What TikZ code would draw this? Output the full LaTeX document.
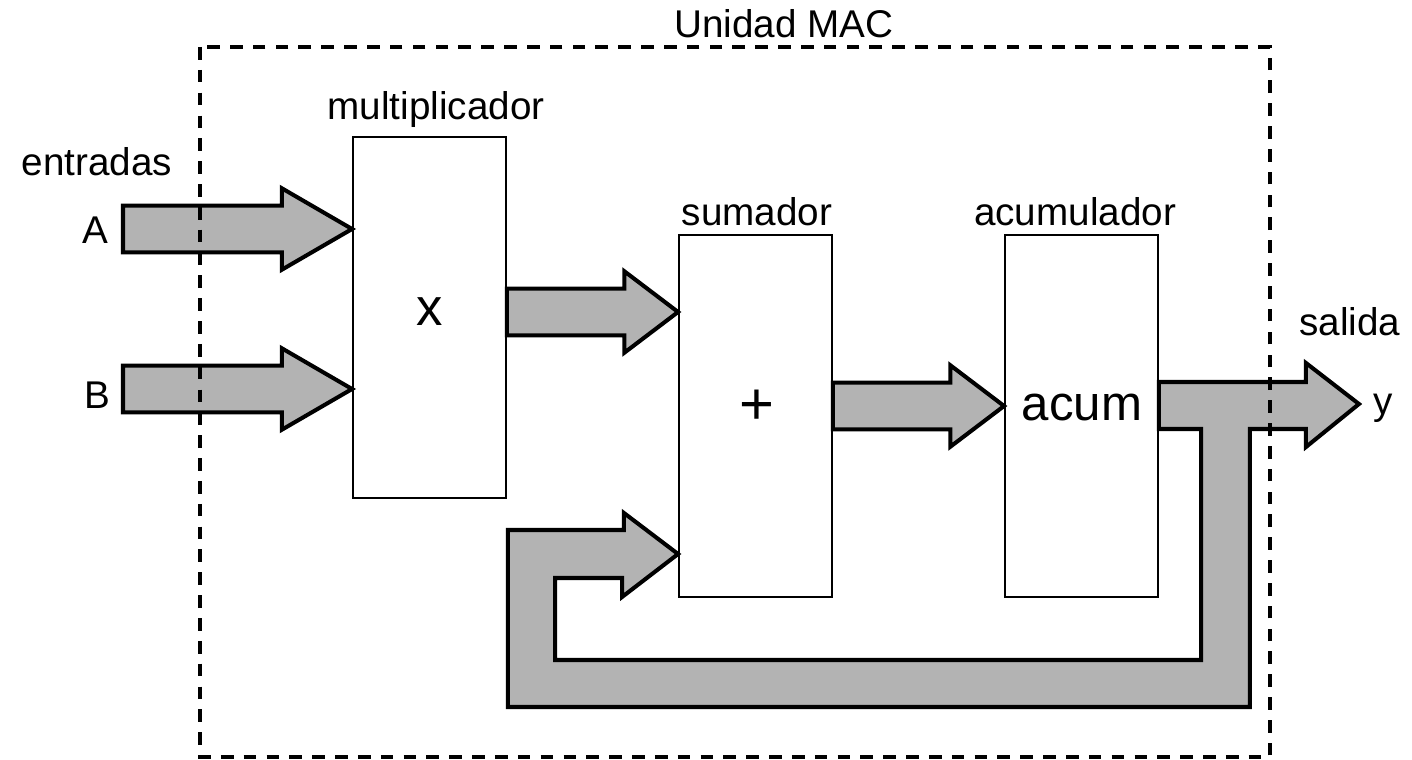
\documentclass[tikz,border=0pt]{standalone}
\usepackage{fontspec}
\setmainfont{Liberation Sans}
\usetikzlibrary{calc}
\definecolor{arrowgray}{RGB}{179,179,179}
\tikzset{
  block/.style={draw=black,line width=1.1pt,fill=white,minimum width=3.06cm,minimum height=7.23cm,inner sep=0pt},
  fatarrow/.style={draw=black,line width=2.3pt,fill=arrowgray,line join=miter},
  caption/.style={font=\fontsize{22}{26}\selectfont,inner sep=0pt},
  symbol/.style={font=\fontsize{28}{32}\selectfont,inner sep=0pt},
  unitbox/.style={draw=black,line width=1.8pt,dash pattern=on 7.2pt off 5.8pt}
}
% wide arrow from the x of #2 to the tip #3, head length #1
\newcommand{\blockarrow}[3][30.6pt]{%
  \draw[fatarrow] let \p1=(#2), \p2=(#3) in
    (\x1,\y2+13.3pt) -- (\x2-#1,\y2+13.3pt) -- (\x2-#1,\y2+23.2pt) -- (\x2,\y2)
    -- (\x2-#1,\y2-23.2pt) -- (\x2-#1,\y2-13.3pt) -- (\x1,\y2-13.3pt) -- cycle;
}

\begin{document}
\begin{tikzpicture}[x=0.02cm,y=-0.02cm]
\useasboundingbox (0,0) rectangle (1412,760);

% blocks
\node[block] (mult) at (429.5,317.5) {};
\node[block] (sum) at (755.5,416) {};
\node[block] (acum) at (1081.5,416) {};
\node[symbol,font=\fontsize{30}{34}\selectfont] (times) at (430,312) {x};
\node[symbol,font=\fontsize{34}{38}\selectfont] (plus) at (756.5,407.5) {+};
\node[symbol] (acc) at (1082,408) {acum};

% labels
\node[caption] (lblmult) at (436,110) {multiplicador};
\node[caption] (lblsum) at (757,212) {sumador};
\node[caption] (lblacum) at (1075,212) {acumulador};
\node[caption] (lblin) at (97,162) {entradas};
\node[caption] (lblA) at (95,230) {A};
\node[caption] (lblB) at (97,395) {B};
\node[caption] (lblout) at (1350,322) {salida};
\node[caption] (lbly) at (1383,408) {y};
\node[caption] (lblunit) at (784,24) {Unidad MAC};

% inputs
\coordinate (inA) at (123,229);
\coordinate (inB) at (123,389);
\blockarrow[40pt]{inA}{mult.west |- inA}
\blockarrow[40pt]{inB}{mult.west |- inB}

% data path
\blockarrow{mult.east}{$(sum.west)+(0,-104)$}
\blockarrow{sum.east}{$(acum.west)+(0,-10)$}

% output and feedback
\draw[fatarrow] ($(acum.east)+(0,-34)$) -- ++(147,0) -- ++(0,-19) -- ++(53,41)
  -- ++(-53,43) -- ++(0,-18) -- ++(-56,0) -- ++(0,278) -- ++(-742,0)
  -- ++(0,-177) -- ++(116,0) -- ++(0,-17) -- ($(sum.west)+(0,138)$)
  -- ++(-56,43) -- ++(0,-19) -- ++(-67,0) -- ++(0,82) -- ++(646,0)
  -- ++(0,-231) -- (acum.east |- 0,429) -- cycle;

% MAC unit
\draw[unitbox] (200,47) rectangle (1270,757);
\end{tikzpicture}
\end{document}
